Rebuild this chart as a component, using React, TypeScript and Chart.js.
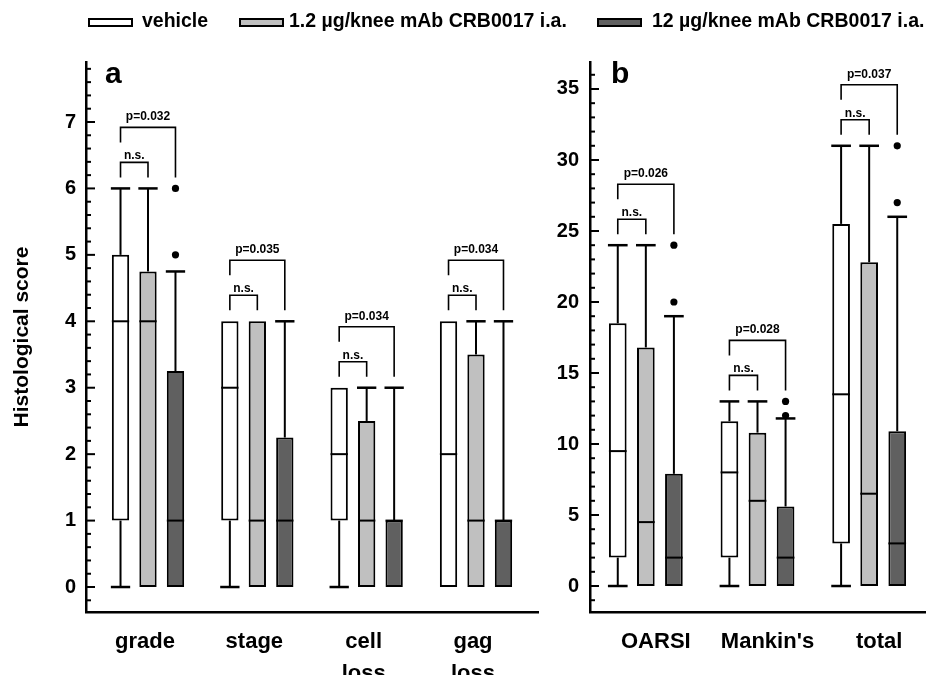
import React, { useEffect, useRef } from 'react';
import { Chart, registerables } from 'chart.js';

Chart.register(...registerables);

const FONT = '"Liberation Sans", Arial, Helvetica, sans-serif';

// ---------- data ----------
const seriesNames = ['vehicle', '1.2 µg/knee mAb CRB0017 i.a.', '12 µg/knee mAb CRB0017 i.a.'];
const seriesColors = ['#ffffff', '#c0c0c0', '#606060'];

// Panel a — each entry: [min, q1, median, q3, max]
const categoriesA = [['grade'], ['stage'], ['cell', 'loss'], ['gag', 'loss']];
const vehicleA = [[0, 1, 4, 5, 6], [0, 1, 3, 4, 4], [0, 1, 2, 3, 3], [0, 0, 2, 4, 4]];
const lowDoseA = [[0, 0, 4, 4.75, 6], [0, 0, 1, 4, 4], [0, 0, 1, 2.5, 3], [0, 0, 1, 3.5, 4]];
const highDoseA = [[0, 0, 1, 3.25, 4.75], [0, 0, 1, 2.25, 4], [0, 0, 1, 1, 3], [0, 0, 1, 1, 4]];
const highDoseOutliersA = [[5, 6], [], [], []];
const bracketBaseA = [6, 4, 3, 4];
const pValuesA = ['p=0.032', 'p=0.035', 'p=0.034', 'p=0.034'];
const yTicksA = [0, 1, 2, 3, 4, 5, 6, 7];

// Panel b
const categoriesB = [['OARSI'], ["Mankin's"], ['total']];
const vehicleB = [[0, 2, 9.5, 18.5, 24], [0, 2, 8, 11.6, 13], [0, 3, 13.5, 25.5, 31]];
const lowDoseB = [[0, 0, 4.5, 16.8, 24], [0, 0, 6, 10.8, 13], [0, 0, 6.5, 22.8, 31]];
const highDoseB = [[0, 0, 2, 7.9, 19], [0, 0, 2, 5.6, 11.8], [0, 0, 3, 10.9, 26]];
const highDoseOutliersB = [[20, 24], [12, 13], [27, 31]];
const bracketBaseB = [24, 13, 31];
const pValuesB = ['p=0.026', 'p=0.028', 'p=0.037'];
const yTicksB = [0, 5, 10, 15, 20, 25, 30, 35];

const yTitle = 'Histological score';

// ---------- layout ----------
type Panel = {
  letter: string;
  categories: string[][];
  series: number[][][];
  outliers: number[][];
  bracketBase: number[];
  pValues: string[];
  yTicks: number[];
  title: string | null;
  left: number;
  width: number;
  axisWidth: number;
  padRight: number;
  xMin: number;
  xMax: number;
  yMin: number;
  yMax: number;
  minorStep: number;
  minorFrom: number;
  minorTo: number;
  tickPad: number;
  letterDx: number;
  labelShift: number;
};

const panelA: Panel = {
  letter: 'a',
  categories: categoriesA,
  series: [vehicleA, lowDoseA, highDoseA],
  outliers: highDoseOutliersA,
  bracketBase: bracketBaseA,
  pValues: pValuesA,
  yTicks: yTicksA,
  title: yTitle,
  left: 0,
  width: 545,
  axisWidth: 86,
  padRight: 7,
  xMin: -0.567,
  xMax: 3.567,
  yMin: -0.376,
  yMax: 7.903,
  minorStep: 0.2,
  minorFrom: -0.2,
  minorTo: 7.8,
  tickPad: 10,
  letterDx: 19,
  labelShift: -3,
};

const panelB: Panel = {
  letter: 'b',
  categories: categoriesB,
  series: [vehicleB, lowDoseB, highDoseB],
  outliers: highDoseOutliersB,
  bracketBase: bracketBaseB,
  pValues: pValuesB,
  yTicks: yTicksB,
  title: null,
  left: 545,
  width: 382,
  axisWidth: 45,
  padRight: 2,
  xMin: -0.5,
  xMax: 2.5,
  yMin: -1.83,
  yMax: 36.9,
  minorStep: 1,
  minorFrom: -1,
  minorTo: 36,
  tickPad: 11,
  letterDx: 21,
  labelShift: 10,
};

function makePlugin(panel: Panel) {
  return {
    id: 'boxExtras' + panel.letter,
    afterDraw(chart: any) {
      const { ctx, chartArea } = chart;
      const ys = chart.scales.y;
      const py = (v: number) => ys.getPixelForValue(v);
      ctx.save();
      ctx.strokeStyle = '#000';
      ctx.fillStyle = '#000';
      ctx.lineCap = 'butt';

      const line = (x1: number, y1: number, x2: number, y2: number, w: number) => {
        ctx.lineWidth = w;
        ctx.beginPath();
        ctx.moveTo(x1, y1);
        ctx.lineTo(x2, y2);
        ctx.stroke();
      };

      // whiskers and medians
      panel.series.forEach((ser, d) => {
        const meta = chart.getDatasetMeta(d);
        ser.forEach((st, i) => {
          const bar = meta.data[i];
          if (!bar) return;
          const { x, width } = bar.getProps(['x', 'width'], true);
          const half = width / 2;
          const [mn, q1, med, q3, mx] = st;
          line(x - half, py(med), x + half, py(med), 2);
          if (mx > q3) {
            line(x, py(q3), x, py(mx), 2);
            line(x - half - 1, py(mx), x + half + 1, py(mx), 2.5);
          }
          if (mn < q1) {
            line(x, py(q1), x, py(mn), 2);
            line(x - half - 1, py(mn), x + half + 1, py(mn), 2.5);
          }
        });
      });

      // outliers (highest dose series)
      const hiMeta = chart.getDatasetMeta(2);
      panel.outliers.forEach((vals, i) => {
        const bar = hiMeta.data[i];
        vals.forEach((v) => {
          ctx.beginPath();
          ctx.arc(bar.x, py(v), 3.6, 0, Math.PI * 2);
          ctx.fill();
        });
      });

      // significance brackets
      const vM = chart.getDatasetMeta(0);
      const lM = chart.getDatasetMeta(1);
      ctx.font = `bold 12px ${FONT}`;
      ctx.textAlign = 'center';
      ctx.textBaseline = 'alphabetic';
      panel.bracketBase.forEach((b, i) => {
        const yb = py(b);
        const xv = vM.data[i].x;
        const xl = lM.data[i].x;
        const xh = hiMeta.data[i].x;
        const legEnd = yb - 11;
        const nsY = yb - 26;
        const pY = yb - 61;
        ctx.lineWidth = 1.6;
        ctx.beginPath();
        ctx.moveTo(xv, legEnd);
        ctx.lineTo(xv, nsY);
        ctx.lineTo(xl, nsY);
        ctx.lineTo(xl, legEnd);
        ctx.stroke();
        ctx.beginPath();
        ctx.moveTo(xv, yb - 46);
        ctx.lineTo(xv, pY);
        ctx.lineTo(xh, pY);
        ctx.lineTo(xh, legEnd);
        ctx.stroke();
        ctx.fillText('n.s.', (xv + xl) / 2, nsY - 3);
        ctx.fillText(panel.pValues[i], (xv + xh) / 2, pY - 7);
      });

      // inward major / minor tick marks on y axis
      const x0 = chartArea.left;
      const nFrom = Math.round(panel.minorFrom / panel.minorStep);
      const nTo = Math.round(panel.minorTo / panel.minorStep);
      for (let k = nFrom; k <= nTo; k++) {
        const v = k * panel.minorStep;
        const major = panel.yTicks.some((t) => Math.abs(t - v) < 1e-6);
        line(x0, py(v), x0 + (major ? 9 : 5), py(v), 2);
      }

      // panel letter
      ctx.font = `bold 30px ${FONT}`;
      ctx.textAlign = 'left';
      ctx.textBaseline = 'alphabetic';
      ctx.fillText(panel.letter, chartArea.left + panel.letterDx, chartArea.top + 21);
      ctx.restore();
    },
  };
}

function buildConfig(panel: Panel): any {
  return {
    type: 'bar',
    data: {
      datasets: panel.series.map((ser, d) => ({
        label: seriesNames[d],
        data: ser.map((st, i) => ({ x: i, y: [st[1], st[3]] })),
        backgroundColor: seriesColors[d],
        borderColor: '#000',
        borderWidth: 2,
        borderSkipped: false,
        categoryPercentage: 0.754,
        barPercentage: 0.63,
      })),
    },
    options: {
      responsive: false,
      animation: false,
      events: [],
      layout: { padding: { top: 62, right: panel.padRight, left: 0, bottom: 0 } },
      plugins: {
        legend: { display: false },
        tooltip: { enabled: false },
        title: { display: false },
      },
      scales: {
        x: {
          type: 'linear',
          offset: false,
          min: panel.xMin,
          max: panel.xMax,
          grid: { display: false, drawTicks: false },
          border: { display: true, color: '#000', width: 2.5 },
          afterBuildTicks: (axis: any) => {
            axis.ticks = panel.categories.map((_, i) => ({ value: i }));
          },
          afterFit: (axis: any) => {
            axis.height = 63;
          },
          ticks: {
            autoSkip: false,
            maxRotation: 0,
            minRotation: 0,
            padding: 14,
            labelOffset: panel.labelShift,
            color: '#000',
            font: { family: FONT, size: 22, weight: 'bold', lineHeight: 1.45 },
            callback: (v: any) => panel.categories[Math.round(v)] ?? '',
          },
        },
        y: {
          type: 'linear',
          min: panel.yMin,
          max: panel.yMax,
          grid: { display: false, drawTicks: false },
          border: { display: true, color: '#000', width: 2.5 },
          afterBuildTicks: (axis: any) => {
            axis.ticks = panel.yTicks.map((v) => ({ value: v }));
          },
          afterFit: (axis: any) => {
            axis.width = panel.axisWidth;
          },
          ticks: {
            autoSkip: false,
            padding: panel.tickPad,
            color: '#000',
            font: { family: FONT, size: 20, weight: 'bold' },
          },
          title: {
            display: !!panel.title,
            text: panel.title || '',
            color: '#000',
            font: { family: FONT, size: 21, weight: 'bold' },
            padding: { top: 10, bottom: 0 },
          },
        },
      },
    },
    plugins: [makePlugin(panel)],
  };
}

function PanelChart({ panel }: { panel: Panel }) {
  const ref = useRef<HTMLCanvasElement>(null);
  useEffect(() => {
    if (!ref.current) return;
    const chart = new Chart(ref.current, buildConfig(panel));
    return () => chart.destroy();
  }, [panel]);
  return (
    <canvas
      ref={ref}
      width={panel.width}
      height={675}
      style={{ position: 'absolute', left: panel.left, top: 0, width: panel.width, height: 675 }}
    />
  );
}

const legendBoxLefts = [88, 239, 597];
const legendTextLefts = [142, 289, 652];

export default function App() {
  return (
    <div
      style={{
        position: 'absolute',
        left: 0,
        top: 0,
        width: 927,
        height: 675,
        background: '#fff',
        overflow: 'hidden',
        fontFamily: FONT,
      }}
    >
      <PanelChart panel={panelA} />
      <PanelChart panel={panelB} />
      {seriesNames.map((name, i) => (
        <React.Fragment key={name}>
          <div
            style={{
              position: 'absolute',
              left: legendBoxLefts[i],
              top: 18,
              width: 45,
              height: 9,
              boxSizing: 'border-box',
              border: '2px solid #000',
              background: seriesColors[i],
            }}
          />
          <div
            style={{
              position: 'absolute',
              left: legendTextLefts[i],
              top: 11,
              fontSize: 19.5,
              lineHeight: '19.5px',
              fontWeight: 'bold',
              color: '#000',
              whiteSpace: 'nowrap',
            }}
          >
            {name}
          </div>
        </React.Fragment>
      ))}
    </div>
  );
}
